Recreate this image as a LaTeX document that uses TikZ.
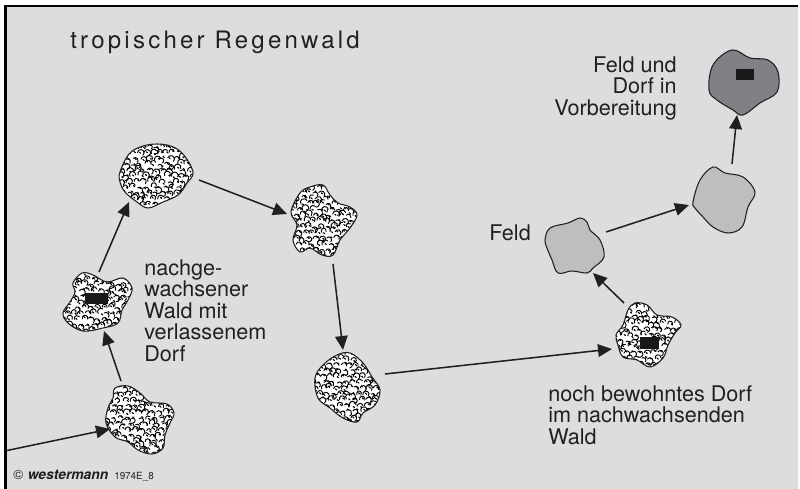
\documentclass[tikz,border=0pt]{standalone}
\usepackage{fontspec}
\setmainfont{TeX Gyre Heros}
\newfontfamily\titlefont[LetterSpace=13.5]{TeX Gyre Heros}
\usetikzlibrary{arrows.meta,calc}
\definecolor{bgc}{HTML}{DCDDDF}
\definecolor{ink}{HTML}{231F20}
\definecolor{feld}{HTML}{BCBEC0}
\definecolor{dark}{HTML}{7F8184}
\tikzset{
  x=0.75pt,y=-0.75pt,
  anchorpt/.style={inner sep=0pt,minimum size=0pt},
  conn/.style={draw=ink,line width=1.15pt,-{Triangle[length=10.5pt,width=9.5pt]},shorten >=0pt},
  outline/.style={draw=ink,line width=0.8pt,line join=round},
  hut/.style={fill=black!90,inner sep=0pt,draw=none},
  lab/.style={text=ink,font=\fontsize{16.2}{16.1}\selectfont,inner sep=0pt},
  curl/.style={draw=black,line width=0.7pt,line cap=round},
  curlb/.style={draw=black,line width=0.85pt,line cap=round},
}
\pgfmathsetseed{1974}
\newcommand{\forestblob}[3]{%
  \begin{scope}
    \clip plot[smooth cycle,tension=0.6] coordinates {#3};
    \fill[white] (#1-60,#2-60) rectangle (#1+60,#2+60);
    \foreach \i in {-8,...,8}{\foreach \j in {-8,...,8}{%
      \pgfmathsetmacro{\px}{#1+\i*6.6+mod(abs(\j),2)*3.3+rand*1.3}%
      \pgfmathsetmacro{\py}{#2+\j*5.8+rand*1.1}%
      \pgfmathsetmacro{\sa}{190+rand*50}%
      \pgfmathsetmacro{\da}{200+rand*50}%
      \pgfmathsetmacro{\rr}{2.9+rand*0.6}%
      \draw[curl] (\px,\py) arc[start angle=\sa,delta angle=\da,radius=\rr];
      \pgfmathsetmacro{\qx}{\px+2.6+rand*1.6}%
      \pgfmathsetmacro{\qy}{\py-1+rand*1.6}%
      \draw[curlb] (\qx,\qy) -- ++(1.2,1.1);
    }}
  \end{scope}
  \draw[outline] plot[smooth cycle,tension=0.6] coordinates {#3};
}
\begin{document}
\begin{tikzpicture}
\useasboundingbox (0,0) rectangle (800,489);
\fill[white] (0,0) rectangle (800,489);
\fill[bgc] (5,6) rectangle (798,489);
\fill[black] (4,5) rectangle (798,7.2);
\fill[black] (4,5) rectangle (6.6,489);

% anchors at the patch centres
\node[anchorpt] (A) at (139,418) {};
\node[anchorpt] (B) at (98,302) {};
\node[anchorpt] (C) at (157,176) {};
\node[anchorpt] (D) at (323,221) {};
\node[anchorpt] (E) at (347,388) {};
\node[anchorpt] (F) at (648,335) {};
\node[anchorpt] (G) at (574,245) {};
\node[anchorpt] (H) at (724,200) {};
\node[anchorpt] (I) at (744,82) {};
\coordinate (entry) at (6,450.7);

% forest patches
\forestblob{139}{418}{(115,388)(128,386)(140,393)(150,402)(167,404)(174,413)(170,423)(165,435)(163,448)(152,454)(138,450)(128,442)(115,437)(106,423)(108,408)(113,398)}
\forestblob{98}{302}{(73,283)(82,273)(93,275)(107,282)(123,278)(132,288)(128,300)(122,310)(118,323)(103,328)(83,331)(68,323)(63,313)(70,302)(75,292)}
\forestblob{157}{176}{(120,172)(130,153)(147,145)(167,145)(182,153)(193,172)(187,183)(178,195)(163,202)(148,208)(137,202)(125,192)(120,182)}
\forestblob{323}{221}{(300,193)(310,187)(323,185)(330,195)(338,203)(350,207)(357,215)(350,228)(340,240)(333,255)(322,255)(310,248)(300,252)(293,240)(297,225)(291,212)}
\forestblob{347}{388}{(315,378)(323,365)(337,355)(350,353)(363,363)(372,377)(380,390)(375,405)(363,413)(357,422)(343,418)(330,408)(318,398)}
\forestblob{648}{335}{(616,335)(623,325)(628,310)(635,303)(647,305)(657,315)(672,317)(681,325)(675,333)(668,345)(663,358)(650,367)(637,360)(623,357)(618,345)}

% field patches
\filldraw[outline,fill=feld] plot[smooth cycle,tension=0.6] coordinates {(545,240)(550,228)(568,223)(580,218)(587,222)(590,230)(600,240)(604,257)(593,268)(587,273)(572,271)(558,273)(552,260)(547,248)};
\filldraw[outline,fill=feld] plot[smooth cycle,tension=0.6] coordinates {(693,202)(700,180)(713,167)(725,173)(743,177)(755,192)(748,207)(742,227)(728,233)(713,227)(703,217)(695,208)};
\filldraw[outline,fill=dark] plot[smooth cycle,tension=0.6] coordinates {(709,90)(713,65)(732,50)(750,58)(768,60)(778,72)(777,92)(760,103)(743,115)(733,110)(717,100)};

% huts
\node[hut,minimum width=17.25pt,minimum height=8.25pt] (hutB) at (96.5,298.5) {};
\node[hut,minimum width=14.25pt,minimum height=9pt] (hutF) at (649.5,343) {};
\node[hut,minimum width=13.5pt,minimum height=8.25pt] (hutI) at (745,74.5) {};

% connectors
\draw[conn] (entry) -- ($(A)+(-29,11)$);
\draw[conn] ($(A)+(-18,-37)$) -- ($(B)+(6,29)$);
\draw[conn] ($(B)+(1,-30)$) -- ($(C)+(-28,26)$);
\draw[conn] ($(C)+(42,4)$) -- ($(D)+(-36,-7)$);
\draw[conn] ($(D)+(10,43)$) -- ($(E)+(-4,-38)$);
\draw[conn] ($(E)+(38,-14)$) -- ($(F)+(-36,14)$);
\draw[conn] ($(F)+(-24,-32)$) -- ($(G)+(19,28)$);
\draw[conn] ($(G)+(32,-13)$) -- ($(H)+(-35,5)$);
\draw[conn] ($(H)+(8,-36)$) -- ($(I)+(-7,33)$);

% labels
\node[anchor=base west,text=ink,inner sep=0pt,font=\fontsize{18}{20}\selectfont\titlefont] (title) at (70,48) {tropischer Regenwald};
\node[lab,anchor=north east,align=right] (t1) at (677,56.5) {Feld und\\Dorf in\\Vorbereitung};
\node[lab,anchor=north west,align=left] (t2) at (144,259.5) {nachge-\\wachsener\\Wald mit\\verlassenem\\Dorf};
\node[lab,anchor=base west] (t3) at (489,240) {Feld};
\node[lab,anchor=north west,align=left] (t4) at (548,385) {noch bewohntes Dorf\\im nachwachsenden\\Wald};
\node[anchor=base west,inner sep=0pt,text=ink,font=\fontsize{10}{12}\selectfont] (c1) at (13,479) {©};
\node[anchor=base west,inner sep=0pt,text=ink,font=\fontsize{10.4}{12}\selectfont\bfseries\itshape] (c2) at (27.5,479) {westermann};
\node[anchor=base west,inner sep=0pt,text=ink,font=\fontsize{7.4}{9}\selectfont] (c3) at (114,479) {1974E\_8};
\end{tikzpicture}
\end{document}
